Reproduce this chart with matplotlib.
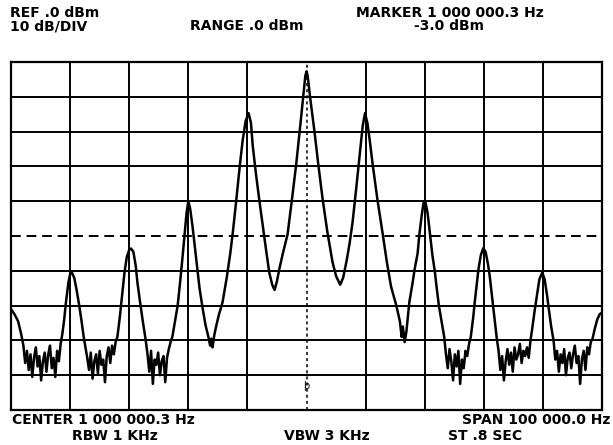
import matplotlib
matplotlib.use("Agg")
import matplotlib.pyplot as plt

# frequency offset from centre (kHz) and level (dBm)
trace_khz = [
    -50.0, -49.4, -48.8, -48.3, -47.9,
    -47.6, -47.3, -47.0, -46.7, -46.4, -46.1, -45.8, -45.5, -45.2, -44.9, -44.6,
    -44.3, -44.0, -43.7, -43.4, -43.1, -42.8, -42.5, -42.2, -41.9, -41.6,
    -41.3, -41.0, -40.7, -40.3, -40.0, -39.7, -39.3, -38.9, -38.5, -38.1, -37.7, -37.4,
    -37.1, -36.8, -36.5, -36.2, -35.9, -35.6, -35.3, -35.0, -34.7, -34.4, -34.1,
    -33.8, -33.5, -33.2, -32.9, -32.6, -32.3,
    -32.0, -31.6, -31.2, -30.8, -30.4, -30.0, -29.7, -29.3, -28.9, -28.6, -28.2, -27.7, -27.2,
    -26.9, -26.6, -26.3, -26.0, -25.7, -25.4, -25.1, -24.8, -24.5, -24.2, -23.9, -23.6, -23.3, -23.0,
    -22.7, -22.3, -21.8, -21.4, -21.0, -20.6, -20.3, -20.0, -19.7, -19.3, -18.9, -18.5, -18.1,
    -17.6, -17.1, -16.6, -16.3, -16.1, -15.9, -15.6,
    -15.3, -14.8, -14.2, -13.5, -12.9, -12.5, -11.9, -11.3, -10.8, -10.3, -9.8, -9.4, -9.1,
    -8.6, -8.0, -7.4, -6.8, -6.3, -5.8, -5.4, -5.0, -4.6,
    -4.0, -3.2, -2.5, -1.75, -1.1, -0.5, -0.2, 0.0, 0.2, 0.6, 1.35, 2.0, 2.7, 3.5, 4.4,
    5.0, 5.7, 6.2,
    6.8, 7.3, 7.8, 8.4, 9.0, 9.5, 9.9, 10.3, 10.7, 11.2, 12.0, 12.9, 13.6, 14.3, 15.2,
    15.8, 16.1, 16.3, 16.6, 16.9, 17.1,
    17.4, 17.9, 18.3, 18.8, 19.1, 19.5, 19.8, 20.1, 20.5, 20.9, 21.3, 21.7, 22.0, 22.4,
    22.9, 23.3,
    23.6, 23.9, 24.2, 24.5, 24.8, 25.1, 25.4, 25.7, 26.0, 26.3, 26.6, 26.9, 27.2, 27.5,
    27.8, 28.2, 28.5, 28.8, 29.1, 29.5, 29.9, 30.3, 30.7, 31.0, 31.3, 31.6, 31.9, 32.2,
    32.5, 32.8, 33.1, 33.4, 33.7, 34.0, 34.3, 34.6, 34.9, 35.2, 35.5, 35.8, 36.1, 36.4,
    36.7, 37.0, 37.3, 37.6,
    37.9, 38.2, 38.6, 39.0, 39.4, 39.9, 40.3, 40.7, 41.0, 41.4, 41.8,
    42.1, 42.4, 42.7, 43.0, 43.3, 43.6, 43.9, 44.2, 44.5, 44.8, 45.1, 45.4, 45.7, 46.0,
    46.3, 46.6, 46.9, 47.2, 47.5, 47.8, 48.1,
    48.4, 48.8, 49.2, 49.6, 50.0,
]
trace_dbm = [
    -71.0, -72.5, -74.5, -78.0, -81.5,
    -86.5, -83.0, -88.5, -84.0, -90.5, -85.0, -82.0, -87.5, -84.5, -91.5, -86.0,
    -83.5, -89.0, -84.0, -81.5, -88.0, -85.0, -90.5, -83.0, -86.0, -81.0,
    -78.0, -74.0, -69.0, -63.5, -61.0, -60.5, -62.0, -65.5, -69.5, -74.0, -79.0, -82.0,
    -85.0, -88.5, -83.5, -91.0, -86.0, -84.0, -89.5, -83.0, -87.0, -85.5, -92.0,
    -84.5, -82.0, -86.5, -81.5, -84.0, -80.5,
    -79.0, -73.5, -67.0, -60.5, -56.0, -54.0, -53.6, -54.5, -58.5, -63.5, -68.5, -74.5, -80.0,
    -84.0, -89.0, -83.0, -92.5, -85.5, -87.0, -83.5, -90.0, -86.0, -84.5, -92.0, -85.0, -82.5, -80.5,
    -79.0, -75.0, -70.0, -63.5, -56.5, -49.0, -43.5, -40.0, -42.0, -47.0, -53.0, -59.0, -65.0,
    -70.5, -75.5, -79.0, -81.5, -79.5, -82.0, -78.5,
    -76.0, -72.5, -69.0, -62.0, -55.0, -49.5, -40.0, -30.0, -22.5, -17.0, -14.7, -17.5, -24.0,
    -31.5, -39.5, -47.0, -54.5, -60.5, -64.0, -65.5, -63.0, -59.5,
    -55.0, -49.5, -40.0, -29.5, -19.0, -9.0, -4.0, -2.7, -4.0, -10.0, -20.0, -29.5, -39.0, -48.5, -57.5,
    -61.5, -64.0, -62.0,
    -57.0, -52.0, -46.0, -36.5, -26.7, -18.5, -14.7, -17.5, -22.5, -29.5, -39.5, -49.5, -57.5, -64.5, -70.0,
    -74.5, -79.0, -76.0, -80.5, -77.5, -74.0,
    -69.0, -64.0, -59.5, -55.0, -49.5, -44.0, -40.5, -40.0, -43.5, -49.5, -55.5, -60.0, -64.5, -70.0,
    -75.0, -79.0,
    -84.0, -88.0, -82.5, -86.0, -91.5, -84.0, -87.5, -83.0, -92.5, -85.5, -88.0, -83.0, -84.5, -81.0,
    -79.0, -73.5, -68.5, -64.0, -59.5, -55.5, -53.5, -54.5, -58.0, -61.5, -66.0, -70.5, -75.0, -79.5,
    -83.0, -88.5, -84.5, -91.5, -86.0, -82.5, -87.0, -83.5, -89.0, -82.0, -85.5, -84.0, -81.0, -86.5,
    -83.0, -84.5, -82.0, -85.0,
    -80.0, -76.5, -71.5, -67.0, -62.5, -60.5, -62.5, -67.0, -71.0, -76.0, -80.0,
    -85.5, -83.0, -89.0, -84.0, -86.5, -82.5, -90.0, -85.0, -83.5, -88.0, -84.0, -81.5, -86.5, -84.5,
    -92.5, -85.5, -83.0, -88.5, -82.0, -84.0, -80.5,
    -79.5, -76.5, -74.0, -72.5, -72.0,
]

grid_khz = [-50, -40, -30, -20, -10, 0, 10, 20, 30, 40, 50]
grid_dbm = [0, -10, -20, -30, -40, -50, -60, -70, -80, -90, -100]

header_left = ["REF .0 dBm", "10 dB/DIV"]
header_mid = "RANGE .0 dBm"
marker_freq = "MARKER 1 000 000.3 Hz"
marker_level = "-3.0 dBm"
footer_center = "CENTER 1 000 000.3 Hz"
footer_span = "SPAN 100 000.0 Hz"
footer_rbw = "RBW 1 KHz"
footer_vbw = "VBW 3 KHz"
footer_st = "ST .8 SEC"

W, H = 613, 445
fig = plt.figure(figsize=(W / 100, H / 100), dpi=100)
ax = fig.add_axes([11 / W, 1 - 410 / H, 591 / W, 348 / H])
ax.set_xlim(-50, 50)
ax.set_ylim(-100, 0)
ax.set_xticks([])
ax.set_yticks([])
for s in ax.spines.values():
    s.set_linewidth(1.6)

# graticule: centre line dotted, -50 dB display line dashed
for g in grid_khz[1:-1]:
    if g == 0:
        ax.axvline(g, color="black", lw=1.1, ls=(0, (2, 2)), zorder=1)
    else:
        ax.axvline(g, color="black", lw=1.4, zorder=1)
for g in grid_dbm[1:-1]:
    if g == -50:
        ax.axhline(g, color="black", lw=1.4, ls=(0, (5, 3)), zorder=1)
    else:
        ax.axhline(g, color="black", lw=1.4, zorder=1)

ax.plot(trace_khz, trace_dbm, color="black", lw=1.8, solid_joinstyle="round", zorder=3)
ax.text(0, -93, "þ", fontsize=7, ha="center", va="center", zorder=4)

kw = dict(fontsize=10, fontweight="bold", family="DejaVu Sans", color="black")


def put(px, py, s, ha="left"):
    fig.text(px / W, 1 - py / H, s, ha=ha, va="baseline", **kw)


put(10, 17, header_left[0])
put(10, 30, header_left[1])
put(247, 30, header_mid, ha="center")
put(450, 17, marker_freq, ha="center")
put(449, 30, marker_level, ha="center")
put(12, 424, footer_center)
put(610, 424, footer_span, ha="right")
put(115, 440, footer_rbw, ha="center")
put(327, 440, footer_vbw, ha="center")
put(485, 440, footer_st, ha="center")

fig.savefig("out.png", dpi=100, facecolor="white")
